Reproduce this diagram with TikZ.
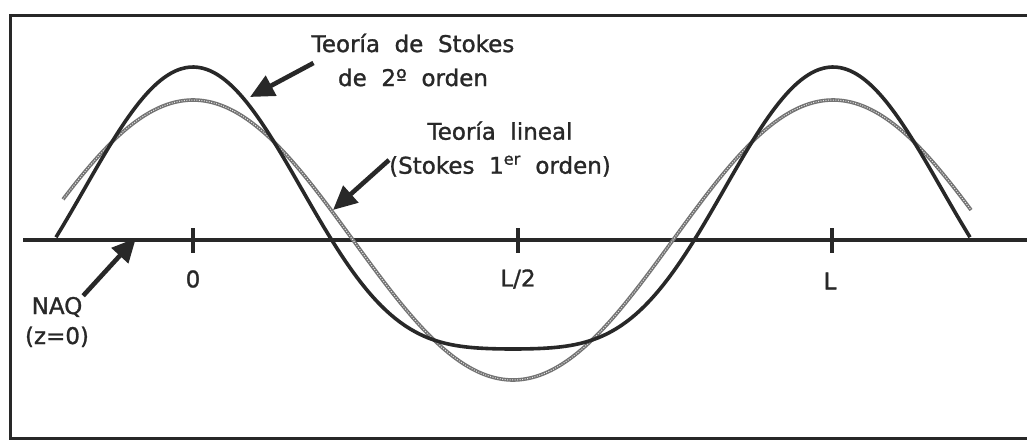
\documentclass[tikz,border=0pt]{standalone}
\usepackage{fontspec}
\setmainfont[WordSpace=2.0,FakeBold=1.2]{DejaVu Sans}
\usepackage{xcolor}
\usetikzlibrary{arrows.meta}
\definecolor{inkgray}{RGB}{40,40,40}
\definecolor{lingray}{RGB}{115,115,115}

\begin{document}
\begin{tikzpicture}[x=1pt,y=-1pt,
  frame/.style={line width=3pt, inkgray},
  axisline/.style={line width=3.4pt, inkgray},
  tickmark/.style={line width=3.6pt, inkgray},
  stokes/.style={line width=3.6pt, inkgray, line join=round},
  linear/.style={line width=3.6pt, lingray},
  lintex/.style={line width=1pt, white!80!gray, dash pattern=on 1pt off 1.5pt},
  callout/.style={line width=4.6pt, inkgray, -{Triangle[length=24pt,width=22pt]}},
  lbl/.style={font=\fontsize{23}{34}\selectfont, text=inkgray, align=center, inner sep=0pt}
]
\useasboundingbox (0,0) rectangle (1027,441);
\fill[white] (0,0) rectangle (1027,441);
\draw[frame] (1027,16) -- (10,16) -- (10,438) -- (1027,438);

\draw[axisline] (23,240) -- (1027,240);
\draw[tickmark] (193,228) -- (193,253);
\draw[tickmark] (518,228) -- (518,253);
\draw[tickmark] (832,228) -- (832,253);

\draw[linear] plot[domain=63:971, samples=220, smooth] (\x, {240 - 140*cos((\x-193)*0.5625)});
\draw[lintex] plot[domain=63:971, samples=220, smooth] (\x, {240 - 140*cos((\x-193)*0.5625)});
\draw[stokes] plot[domain=56:970, samples=220, smooth] (\x, {240 - 141*cos((\x-193)*0.5625) - 32*cos((\x-193)*1.125)});

\node[lbl] (zero) at (193,279) {0};
\node[lbl] (half) at (518,279) {L/2};
\node[lbl] (wavelen) at (830,281) {L};

\node[lbl] (secondorder) at (413,60) {Teoría de Stokes\\de 2º orden};
\node[lbl] (firstorder) at (500,149) {Teoría lineal\\(Stokes 1\textsuperscript{er} orden)};
\node[lbl, font=\fontsize{23}{30}\selectfont] (naq) at (57,322) {NAQ\\(z=0)};

\coordinate (secondtip) at (250,97);
\coordinate (firsttip) at (333,210);
\coordinate (naqtip) at (136,238);
\draw[callout] (secondorder.west) ++(2,3) -- (secondtip);
\draw[callout] (firstorder.west) ++(0,11) -- (firsttip);
\draw[callout] (naq.north east) ++(-6,-1) -- (naqtip);
\end{tikzpicture}
\end{document}
